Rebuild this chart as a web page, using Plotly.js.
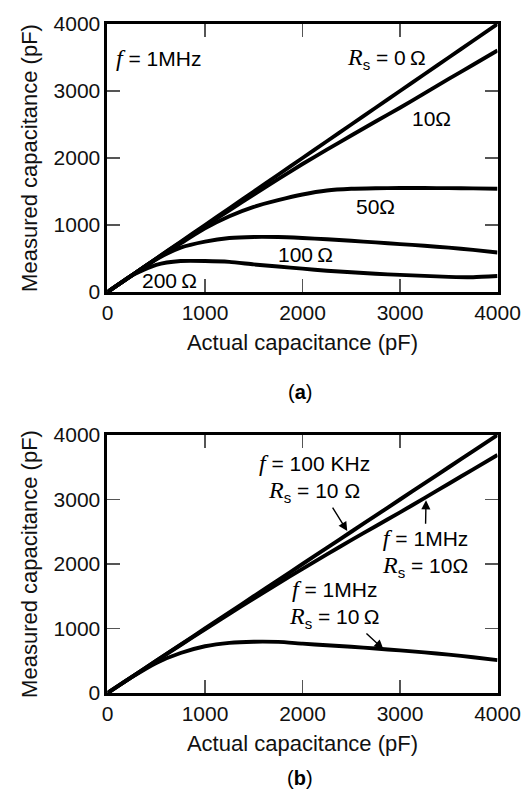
<!DOCTYPE html>
<html>
<head>
<meta charset="utf-8">
<script src="https://cdn.plot.ly/plotly-3.0.1.min.js"></script>
<style>html,body{margin:0;padding:0;background:#fff;}#chart{width:524px;height:789px;}</style>
</head>
<body>
<div id="chart"></div>
<script>
// ---- Panel (a): f = 1 MHz, various series resistances ----
var xA = [0, 250, 500, 750, 1000, 1250, 1500, 1750, 2000, 2250, 2500, 2750, 3000, 3250, 3500, 3750, 4000];
var rs0   = [0, 250, 500, 750, 1000, 1250, 1500, 1750, 2000, 2250, 2500, 2750, 3000, 3250, 3500, 3750, 4000];
var rs10  = [0, 249, 497, 742, 983, 1220, 1455, 1685, 1910, 2125, 2335, 2545, 2750, 2965, 3180, 3392, 3605];
var rs50  = [0, 249, 492, 725, 950, 1130, 1270, 1370, 1455, 1515, 1540, 1548, 1552, 1552, 1550, 1546, 1540];
var rs100 = [0, 248, 488, 662, 752, 806, 822, 820, 806, 788, 765, 740, 715, 690, 662, 628, 590];
var rs200 = [0, 245, 405, 462, 463, 450, 412, 380, 348, 318, 295, 272, 255, 240, 226, 220, 238];

// ---- Panel (b): Rs = 10 ohm, two frequencies ----
var xB = [0, 250, 500, 750, 1000, 1250, 1500, 1750, 2000, 2250, 2500, 2750, 3000, 3250, 3500, 3750, 4000];
var f100k = [0, 250, 500, 750, 1000, 1250, 1500, 1750, 2000, 2250, 2500, 2750, 3000, 3250, 3500, 3750, 4000];
var f1mUpper = [0, 249, 498, 744, 988, 1228, 1465, 1697, 1925, 2150, 2370, 2586, 2800, 3022, 3245, 3468, 3690];
var f1mLower = [0, 245, 465, 620, 725, 778, 795, 792, 765, 740, 718, 690, 660, 630, 595, 555, 510];

var tickVals = [0, 1000, 2000, 3000, 4000];
var tickText = ['0', '1000', '2000', '3000', '4000'];

var serif = 'font-family:Liberation Serif;font-size:24px;';
var subS = 'font-size:15px;baseline-shift:-5px;';
function fLab(rest) { return '<span style="' + serif + '"><i>f</i></span> = ' + rest; }
function rLab(rest) {
  return '<span style="' + serif + '"><i>R</i></span><span style="' + subS + '">s</span> = ' + rest;
}

var lineStyle = {color: '#000', width: 3.9, shape: 'spline', smoothing: 0.6};
function tr(x, y, xa, ya) {
  return {x: x, y: y, xaxis: xa, yaxis: ya, type: 'scatter', mode: 'lines',
          line: lineStyle, hoverinfo: 'skip'};
}

var data = [
  tr(xA, rs0, 'x', 'y'), tr(xA, rs10, 'x', 'y'), tr(xA, rs50, 'x', 'y'),
  tr(xA, rs100, 'x', 'y'), tr(xA, rs200, 'x', 'y'),
  tr(xB, f100k, 'x2', 'y2'), tr(xB, f1mUpper, 'x2', 'y2'), tr(xB, f1mLower, 'x2', 'y2')
];

var FONT = 'Liberation Sans, Arial, Helvetica, sans-serif';
function axis(extra) {
  var a = {
    range: [0, 4000], tickmode: 'array', tickvals: tickVals, ticktext: tickText,
    ticks: 'inside', ticklen: 13, tickwidth: 1.5, tickcolor: '#555',
    showline: true, linewidth: 3, linecolor: '#000', mirror: 'ticks',
    showgrid: false, zeroline: false, fixedrange: true,
    tickfont: {family: FONT, size: 21, color: '#111'}
  };
  for (var k in extra) a[k] = extra[k];
  return a;
}
var xTitle = {text: 'Actual capacitance (pF)', font: {family: FONT, size: 22, color: '#111'}, standoff: 12};
var yTitle = {text: 'Measured capacitance (pF)', font: {family: FONT, size: 22, color: '#111'}, standoff: 10};

var annFont = {family: FONT, size: 21, color: '#000'};
function lab(text, x, y, xr, yr, anchor) {
  return {text: text, x: x, y: y, xref: xr, yref: yr, showarrow: false,
          xanchor: anchor || 'center', yanchor: 'middle', font: annFont};
}
// label whose arrow points at (x, y); label centre sits at (ax, ay) pixels from the tip
function arrowLab(text, x, y, ax, ay, xr, yr) {
  return {text: text, x: x, y: y, ax: ax, ay: ay, xref: xr, yref: yr, showarrow: true,
          arrowhead: 2, arrowsize: 1.3, arrowwidth: 1.4, arrowcolor: '#000',
          font: annFont};
}

var layout = {
  width: 524, height: 789,
  margin: {l: 0, r: 0, t: 0, b: 0},
  paper_bgcolor: '#fff', plot_bgcolor: '#fff',
  showlegend: false,
  xaxis: axis({domain: [0.20515, 0.94943], anchor: 'y', title: xTitle}),
  yaxis: axis({domain: [0.62991, 0.96958], anchor: 'x', title: yTitle}),
  xaxis2: axis({domain: [0.20515, 0.94943], anchor: 'y2', title: xTitle}),
  yaxis2: axis({domain: [0.12167, 0.44867], anchor: 'x2', title: yTitle}),
  annotations: [
    lab(fLab('1MHz'), 70, 3497, 'x', 'y', 'left'),
    lab(rLab('0\u2009\u03A9'), 2865, 3486, 'x', 'y'),
    lab('10\u03A9', 3320, 2587, 'x', 'y'),
    lab('50\u03A9', 2749, 1280, 'x', 'y'),
    lab('100\u2009\u03A9', 2029, 566, 'x', 'y'),
    lab('200\u2009\u03A9', 638, 171, 'x', 'y'),

    arrowLab(fLab('100 KHz') + '<br>' + rLab('10 \u03A9'), 2459, 2510, -33, -53, 'x2', 'y2'),
    arrowLab(fLab('1MHz') + '<br>' + rLab('10\u03A9'), 3267, 2989, -1, 53, 'x2', 'y2'),
    arrowLab(fLab('1MHz') + '<br>' + rLab('10\u2009\u03A9'), 2829, 681, -49, -45, 'x2', 'y2'),

    {text: '(<b>a</b>)', x: 0.5725, y: 1 - 392 / 789, xref: 'paper', yref: 'paper',
     showarrow: false, xanchor: 'center', yanchor: 'middle', font: {family: FONT, size: 20, color: '#000'}},
    {text: '(<b>b</b>)', x: 0.5725, y: 1 - 778 / 789, xref: 'paper', yref: 'paper',
     showarrow: false, xanchor: 'center', yanchor: 'middle', font: {family: FONT, size: 20, color: '#000'}}
  ]
};

Plotly.newPlot('chart', data, layout, {staticPlot: true, displayModeBar: false});
</script>
</body>
</html>
